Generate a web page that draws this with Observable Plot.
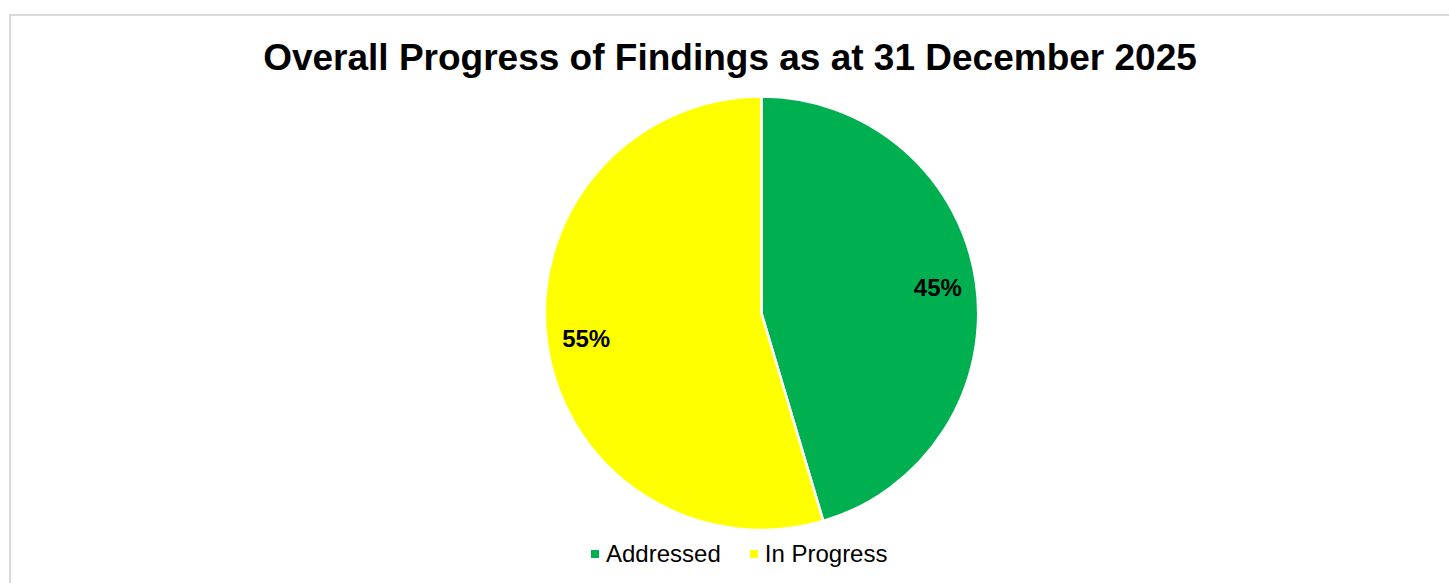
<!DOCTYPE html>
<html>
<head>
<meta charset="utf-8">
<script src="https://cdn.jsdelivr.net/npm/d3@7"></script>
<script src="https://cdn.jsdelivr.net/npm/@observablehq/plot@0.6"></script>
<style>
  html, body { margin: 0; padding: 0; background: #fff; overflow: hidden; }
  body { width: 1449px; height: 583px; position: relative; font-family: "Liberation Sans", Arial, sans-serif; }
  #frame { position: absolute; left: 9px; top: 14px; width: 1500px; height: 700px; border: 2px solid #d9d9d9; box-sizing: border-box; }
  #title { position: absolute; left: 0; top: 39px; width: 1460px; text-align: center; font-size: 37px; line-height: 37px; font-weight: bold; color: #000; white-space: nowrap; }
  #chart { position: absolute; left: 0; top: 80px; }
  #legend { position: absolute; left: 591px; top: 542px; height: 24px; display: flex; align-items: center; font-size: 24px; line-height: 24px; color: #000; white-space: nowrap; }
  .item { display: flex; align-items: center; }
  .swatch { width: 8px; height: 8px; margin-right: 7px; margin-top: -1px; }
  .item + .item { margin-left: 29px; }
</style>
</head>
<body>
<div id="frame"></div>
<div id="title"></div>
<div id="chart"></div>
<div id="legend"></div>
<script>
// ---- data ----
const titleText = "Overall Progress of Findings as at 31 December 2025";
const categories = ["Addressed", "In Progress"];
const values = [45.4, 54.6];
const colors = ["#00B050", "#FFFF00"];

const data = categories.map((c, i) => ({category: c, value: values[i], color: colors[i]}));
const total = d3.sum(values);
const arcs = d3.pie().sort(null).value(d => d.value)(data);
const labelRadius = 0.82;
const labels = arcs.map(a => {
  const mid = (a.startAngle + a.endAngle) / 2;
  return {
    x: labelRadius * Math.sin(mid),
    y: labelRadius * Math.cos(mid),
    text: Math.round(a.data.value / total * 100) + "%"
  };
});

document.getElementById("title").textContent = titleText;

// custom pie mark drawn with Plot's x/y scales
function pieMark(...args) {
  const scales = args.find(a => a && typeof a.x === "function" && typeof a.y === "function");
  const cx = scales.x(0), cy = scales.y(0);
  const r = Math.abs(scales.x(1) - scales.x(0));
  const g = d3.create("svg:g");
  const arcGen = d3.arc().innerRadius(0).outerRadius(r);
  g.selectAll("path")
    .data(arcs)
    .join("path")
    .attr("transform", `translate(${cx},${cy})`)
    .attr("d", arcGen)
    .attr("fill", d => d.data.color)
    .attr("stroke", "#fff")
    .attr("stroke-width", 2.5)
    .attr("stroke-linejoin", "round");
  return g.node();
}

const W = 1449, H = 455;
const plot = Plot.plot({
  width: W,
  height: H,
  marginLeft: 544.8,
  marginRight: 470.8,
  marginTop: 16.6,
  marginBottom: 5,
  x: {domain: [-1, 1], axis: null},
  y: {domain: [-1, 1], axis: null},
  style: {background: "transparent", fontFamily: "'Liberation Sans', Arial, sans-serif"},
  marks: [
    pieMark,
    Plot.text(labels, {x: "x", y: "y", text: "text", fontSize: 24, fontWeight: "bold", fill: "#000"})
  ]
});
document.getElementById("chart").appendChild(plot);

// legend
const legend = d3.select("#legend");
data.forEach(d => {
  const item = legend.append("div").attr("class", "item");
  item.append("div").attr("class", "swatch").style("background", d.color);
  item.append("span").text(d.category);
});
</script>
</body>
</html>
